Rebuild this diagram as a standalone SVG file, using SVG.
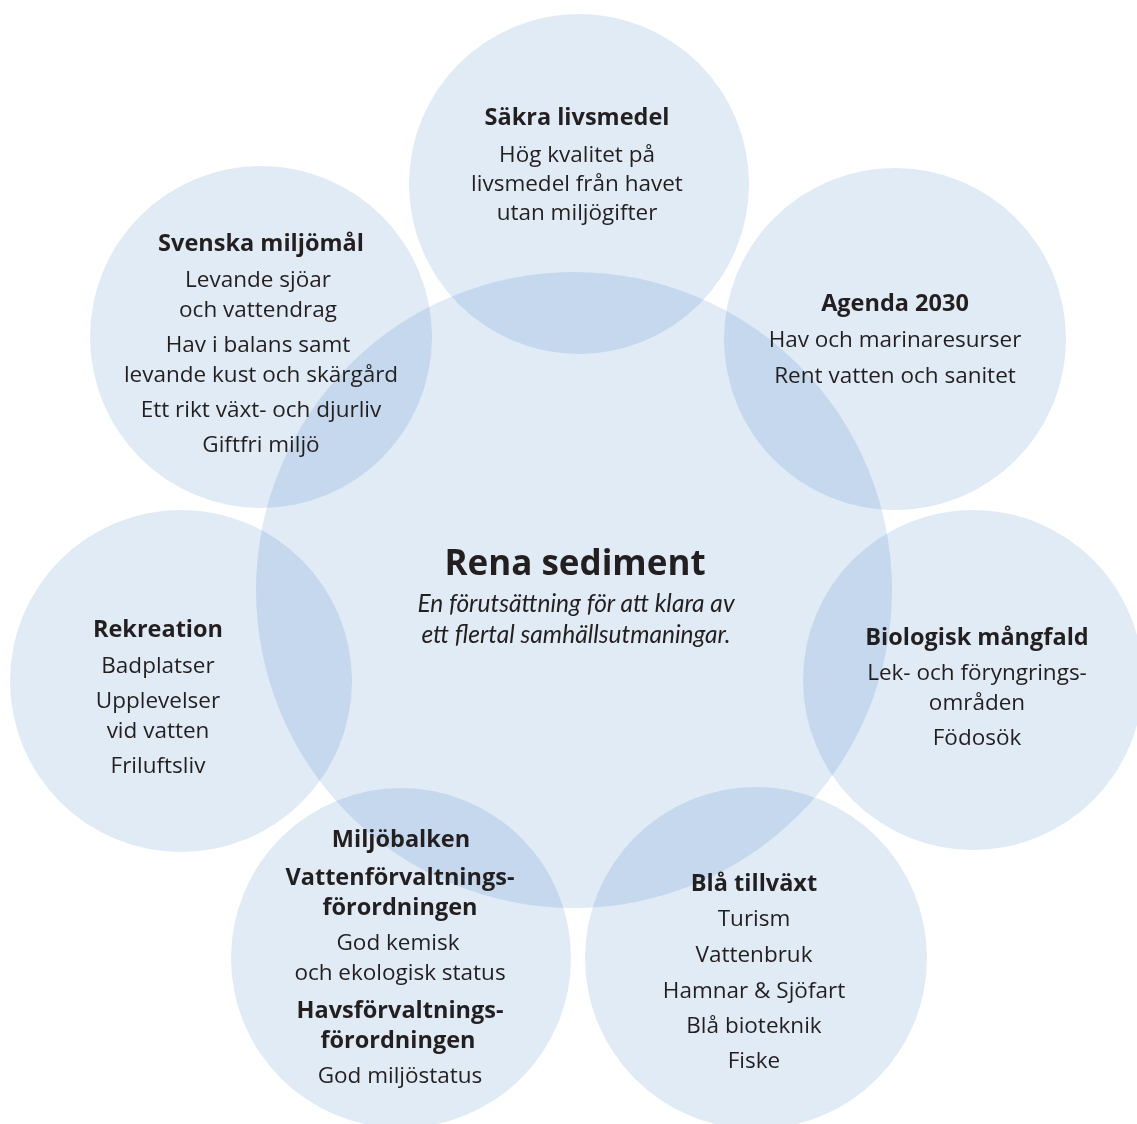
<svg xmlns="http://www.w3.org/2000/svg" width="1137" height="1124" viewBox="0 0 1137 1124">
<style>
.c{fill:#e1ebf6;mix-blend-mode:multiply}
text{font-family:"Open Sans","Noto Sans","Liberation Sans",sans-serif;fill:#231f20;text-anchor:middle}
.t{font-size:23.5px;font-weight:bold}
.b{font-size:22.5px}
.h{font-size:35px;font-weight:bold}
.i{font-family:Lato,"Open Sans",sans-serif;font-size:24.5px;font-style:italic}
</style>
<rect width="1137" height="1124" fill="#ffffff"/>
<g id="connectors"/>
<g id="center">
<circle class="c" cx="574" cy="590" r="318"/>
<text class="h" x="575" y="575">Rena sediment</text>
<text class="i" x="576" y="612">En förutsättning för att klara av</text>
<text class="i" x="576" y="643">ett flertal samhällsutmaningar.</text>
</g>
<g id="sakra">
<circle class="c" cx="579" cy="184" r="170"/>
<text class="t" x="577" y="125">Säkra livsmedel</text>
<text class="b" x="577" y="162">Hög kvalitet på</text>
<text class="b" x="577" y="191">livsmedel från havet</text>
<text class="b" x="577" y="220">utan miljögifter</text>
</g>
<g id="svenska">
<circle class="c" cx="261" cy="337" r="171"/>
<text class="t" x="261" y="251">Svenska miljömål</text>
<text class="b" x="258" y="287">Levande sjöar</text>
<text class="b" x="258" y="317">och vattendrag</text>
<text class="b" x="258" y="352">Hav i balans samt</text>
<text class="b" x="261" y="382">levande kust och skärgård</text>
<text class="b" x="261" y="417">Ett rikt växt- och djurliv</text>
<text class="b" x="261" y="452">Giftfri miljö</text>
</g>
<g id="agenda">
<circle class="c" cx="895" cy="339" r="171"/>
<text class="t" x="895" y="311">Agenda 2030</text>
<text class="b" x="895" y="347">Hav och marinaresurser</text>
<text class="b" x="895" y="383">Rent vatten och sanitet</text>
</g>
<g id="rekreation">
<circle class="c" cx="181" cy="681" r="171"/>
<text class="t" x="158" y="637">Rekreation</text>
<text class="b" x="158" y="673">Badplatser</text>
<text class="b" x="158" y="708">Upplevelser</text>
<text class="b" x="158" y="738">vid vatten</text>
<text class="b" x="158" y="773">Friluftsliv</text>
</g>
<g id="biologisk">
<circle class="c" cx="973" cy="680" r="170"/>
<text class="t" x="977" y="645">Biologisk mångfald</text>
<text class="b" x="977" y="680">Lek- och föryngrings-</text>
<text class="b" x="977" y="710">områden</text>
<text class="b" x="977" y="745">Födosök</text>
</g>
<g id="miljobalken">
<circle class="c" cx="401" cy="958" r="170"/>
<text class="t" x="401" y="847">Miljöbalken</text>
<text class="t" x="400" y="885">Vattenförvaltnings-</text>
<text class="t" x="400" y="915">förordningen</text>
<text class="b" x="398" y="950">God kemisk</text>
<text class="b" x="400" y="980">och ekologisk status</text>
<text class="t" x="400" y="1018">Havsförvaltnings-</text>
<text class="t" x="398" y="1048">förordningen</text>
<text class="b" x="400" y="1083">God miljöstatus</text>
</g>
<g id="bla">
<circle class="c" cx="756" cy="958" r="171"/>
<text class="t" x="754" y="891">Blå tillväxt</text>
<text class="b" x="754" y="926">Turism</text>
<text class="b" x="754" y="962">Vattenbruk</text>
<text class="b" x="754" y="998">Hamnar &amp; Sjöfart</text>
<text class="b" x="754" y="1033">Blå bioteknik</text>
<text class="b" x="754" y="1068">Fiske</text>
</g>
</svg>
